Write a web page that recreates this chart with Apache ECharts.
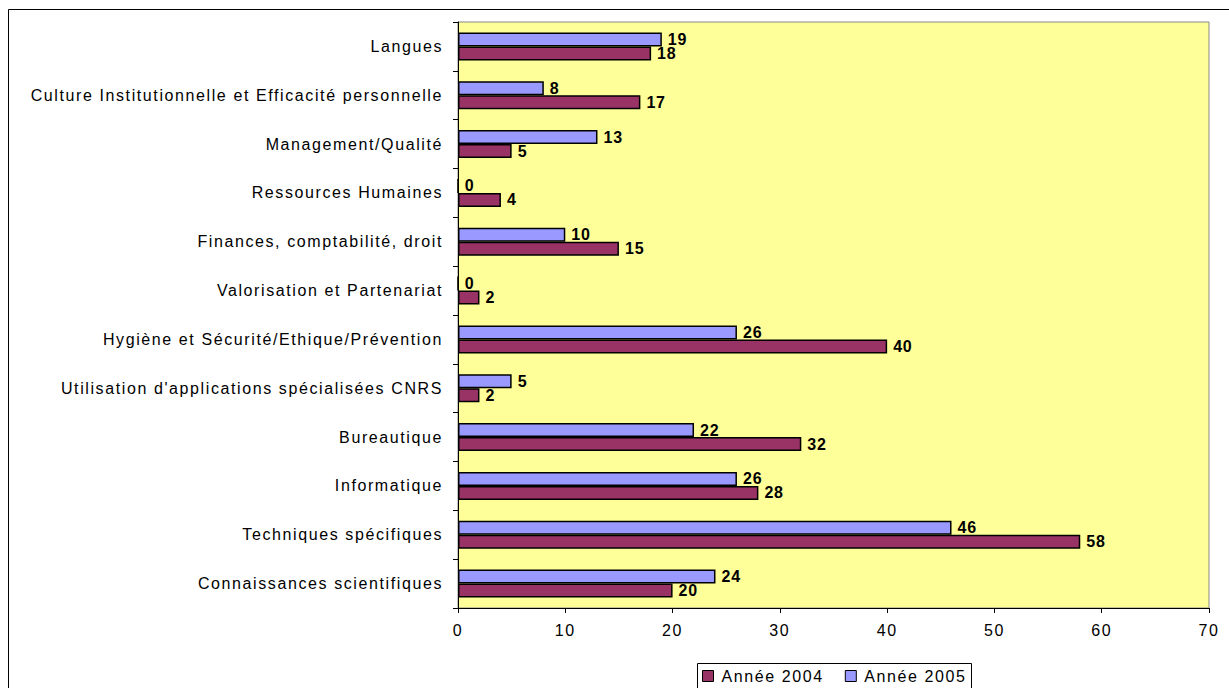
<!DOCTYPE html>
<html>
<head>
<meta charset="utf-8">
<script src="https://cdn.jsdelivr.net/npm/echarts@6/dist/echarts.min.js"></script>
<style>
  html, body { margin: 0; padding: 0; background: #ffffff; }
  #chart { width: 1229px; height: 688px; }
  /* widen the regular texts a little, keep the bold value labels tighter */
  #chart svg text { letter-spacing: 1.6px; }
  #chart svg text[style*="bold"] { letter-spacing: 0.8px; }
</style>
</head>
<body>
<div id="chart"></div>
<script>
// Training themes, listed from top to bottom
const categories = [
  'Langues',
  'Culture Institutionnelle et Efficacité personnelle',
  'Management/Qualité',
  'Ressources Humaines',
  'Finances, comptabilité, droit',
  'Valorisation et Partenariat',
  'Hygiène et Sécurité/Ethique/Prévention',
  "Utilisation d'applications spécialisées CNRS",
  'Bureautique',
  'Informatique',
  'Techniques spécifiques',
  'Connaissances scientifiques'
];
const values2004 = [18, 17, 5, 4, 15, 2, 40, 2, 32, 28, 58, 20];
const values2005 = [19, 8, 13, 0, 10, 0, 26, 5, 22, 26, 46, 24];
const xTicks = [0, 10, 20, 30, 40, 50, 60, 70];

const FONT = '"Liberation Sans", Arial, sans-serif';

const chart = echarts.init(document.getElementById('chart'), null, { renderer: 'svg' });

const labelStyle = {
  show: true,
  position: 'right',
  distance: 6,
  color: '#000',
  fontWeight: 'bold',
  fontSize: 16,
  fontFamily: FONT
};

chart.setOption({
  animation: false,
  graphic: [
    {
      type: 'rect',
      shape: { x: 8.5, y: 9.5, width: 1240, height: 700 },
      style: { fill: 'none', stroke: '#000', lineWidth: 1 },
      silent: true,
      z: -10
    },
    {
      // legend frame
      type: 'rect',
      shape: { x: 697.5, y: 663.5, width: 274, height: 40 },
      style: { fill: '#fff', stroke: '#000', lineWidth: 1 },
      silent: true,
      z: 0
    }
  ],
  grid: {
    left: 458, right: 20, top: 22, bottom: 80,
    show: true,
    backgroundColor: '#FFFF99',
    borderColor: '#888888',
    borderWidth: 1
  },
  legend: {
    left: 697, top: 665,
    data: ['Année 2004', 'Année 2005'],
    orient: 'horizontal',
    itemWidth: 11, itemHeight: 11, itemGap: 37,
    icon: 'rect',
    padding: [3, 5, 3, 5],
    z: 5,
    itemStyle: { borderColor: '#000', borderWidth: 1 },
    textStyle: { fontSize: 16, fontFamily: FONT, color: '#000', padding: [0, 0, 0, 3] }
  },
  xAxis: {
    type: 'value',
    min: 0, max: 70, interval: 10,
    axisLine: { show: true, lineStyle: { color: '#000', width: 1 } },
    axisTick: { show: true, length: 5, inside: false, lineStyle: { color: '#000' } },
    splitLine: { show: false },
    axisLabel: {
      fontSize: 16, fontFamily: FONT, color: '#000', margin: 14,
      formatter: v => xTicks.includes(v) ? String(v) : ''
    }
  },
  yAxis: {
    type: 'category',
    data: categories,
    inverse: true,
    axisLine: { show: true, lineStyle: { color: '#000', width: 1 } },
    axisTick: { show: true, length: 5, inside: false, lineStyle: { color: '#000' } },
    axisLabel: { fontSize: 16, fontFamily: FONT, color: '#000', margin: 15 },
    splitLine: { show: false }
  },
  series: [
    {
      name: 'Année 2005',
      type: 'bar',
      data: values2005,
      barWidth: 14,
      barGap: '0%',
      itemStyle: { color: '#9999FF', borderColor: '#000', borderWidth: 1.5 },
      label: labelStyle
    },
    {
      name: 'Année 2004',
      type: 'bar',
      data: values2004,
      barWidth: 14,
      barGap: '0%',
      itemStyle: { color: '#993366', borderColor: '#000', borderWidth: 1.5 },
      label: labelStyle
    }
  ]
});
</script>
</body>
</html>
